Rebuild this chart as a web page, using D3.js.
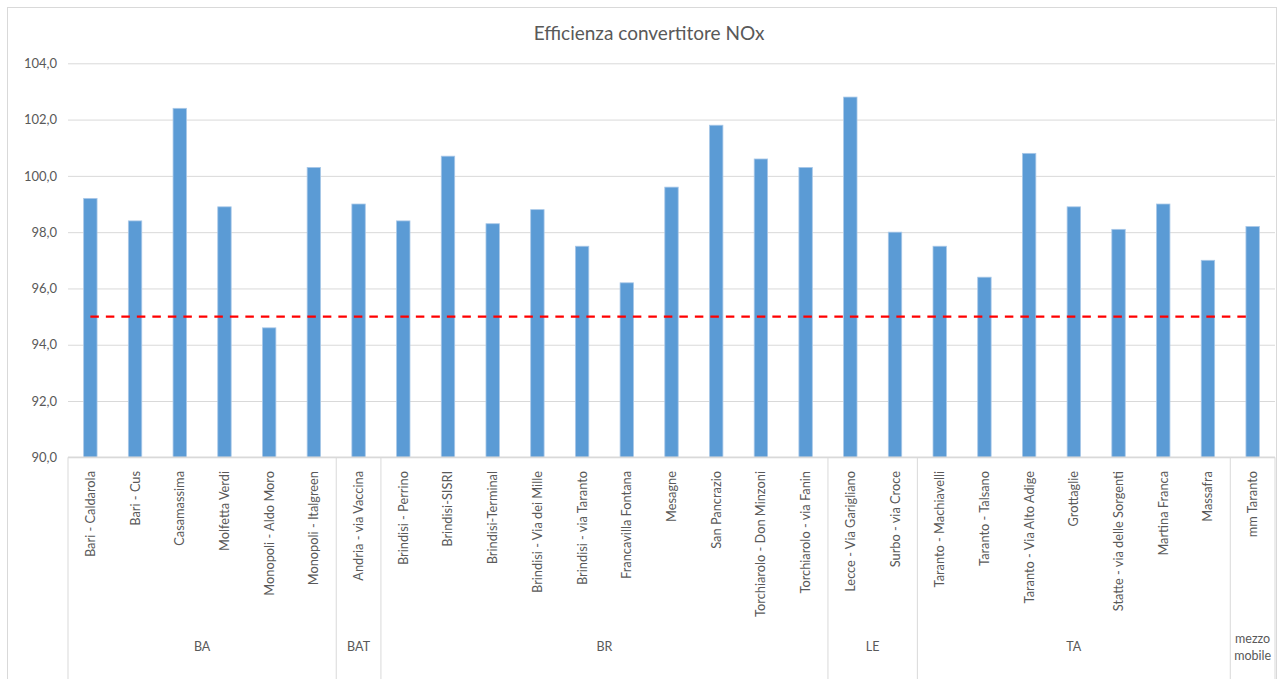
<!DOCTYPE html>
<html>
<head>
<meta charset="utf-8">
<script src="https://cdn.jsdelivr.net/npm/d3@7"></script>
<style>
  html, body { margin: 0; padding: 0; background: #fff; }
  svg { display: block; font-family: Lato, "Open Sans", sans-serif; }
</style>
</head>
<body>
<svg id="chart" width="1277" height="679"></svg>
<script>
// Stations (first-level categories) and their province groups
const stations = [
  "Bari - Caldarola", "Bari - Cus", "Casamassima", "Molfetta Verdi",
  "Monopoli - Aldo Moro", "Monopoli - Italgreen",
  "Andria - via Vaccina",
  "Brindisi - Perrino", "Brindisi-SISRI", "Brindisi-Terminal",
  "Brindisi - Via dei Mille", "Brindisi - via Taranto", "Francavilla Fontana",
  "Mesagne", "San Pancrazio", "Torchiarolo - Don Minzoni", "Torchiarolo - via Fanin",
  "Lecce - Via Garigliano", "Surbo - via Croce",
  "Taranto - Machiavelli", "Taranto - Talsano", "Taranto - Via Alto Adige",
  "Grottaglie", "Statte - via delle Sorgenti", "Martina Franca", "Massafra",
  "mm Taranto"
];
const provinces = [
  "BA", "BA", "BA", "BA", "BA", "BA",
  "BAT",
  "BR", "BR", "BR", "BR", "BR", "BR", "BR", "BR", "BR", "BR",
  "LE", "LE",
  "TA", "TA", "TA", "TA", "TA", "TA", "TA",
  "mezzo mobile"
];
// Converter efficiency (%)
const efficiency = [
  99.2, 98.4, 102.4, 98.9, 94.6, 100.3,
  99.0,
  98.4, 100.7, 98.3, 98.8, 97.5, 96.2, 99.6, 101.8, 100.6, 100.3,
  102.8, 98.0,
  97.5, 96.4, 100.8, 98.9, 98.1, 99.0, 97.0,
  98.2
];
// Minimum acceptable efficiency
const threshold = 95;
const yTicks = [90, 92, 94, 96, 98, 100, 102, 104];
const title = "Efficienza convertitore NOx";

const svg = d3.select("#chart");
const W = 1277, H = 679;
const plot = { left: 68, right: 1275, top: 63.3, bottom: 457.3 };
const textColor = "#595959";
const gridColor = "#d9d9d9";

// Outer chart frame
svg.append("rect")
  .attr("x", 7.5).attr("y", 7.5)
  .attr("width", W - 8).attr("height", H)
  .attr("fill", "#fff").attr("stroke", gridColor).attr("stroke-width", 1);

const x = d3.scaleBand()
  .domain(d3.range(stations.length))
  .range([plot.left, plot.right])
  .paddingInner(0.7).paddingOuter(0.35);
const xSlot = d3.scaleBand()
  .domain(d3.range(stations.length))
  .range([plot.left, plot.right]);
const y = d3.scaleLinear().domain([90, 104]).range([plot.bottom, plot.top]);

// Title
svg.append("text")
  .attr("x", 649).attr("y", 40)
  .attr("text-anchor", "middle")
  .attr("font-size", 19).attr("fill", textColor)
  .text(title);

// Horizontal gridlines and y tick labels
const yAxis = d3.axisLeft(y).tickValues(yTicks)
  .tickFormat(d => d3.format(".1f")(d).replace(".", ","))
  .tickSize(-(plot.right - plot.left)).tickPadding(11);
const gy = svg.append("g")
  .attr("transform", `translate(${plot.left},0)`)
  .call(yAxis);
gy.select(".domain").remove();
gy.selectAll(".tick line").attr("stroke", gridColor).attr("stroke-width", 1);
gy.selectAll(".tick text").attr("fill", textColor).attr("font-size", 13)
  .attr("font-family", "Lato, 'Open Sans', sans-serif");

// Bars
svg.append("g").selectAll("rect")
  .data(efficiency)
  .join("rect")
  .attr("x", (d, i) => x(i))
  .attr("width", x.bandwidth())
  .attr("y", d => y(d))
  .attr("height", d => y(90) - y(d))
  .attr("fill", "#5b9bd5")
  .attr("stroke", "#a9c8e8")
  .attr("stroke-width", 0.8);

// Category axis baseline
svg.append("line")
  .attr("x1", plot.left).attr("x2", plot.right)
  .attr("y1", plot.bottom).attr("y2", plot.bottom)
  .attr("stroke", gridColor).attr("stroke-width", 1.5);

// Threshold line drawn as a series across all stations
const thresholdLine = d3.line()
  .x((d, i) => xSlot(i) + xSlot.bandwidth() / 2)
  .y(() => y(threshold));
svg.append("path")
  .datum(stations)
  .attr("d", thresholdLine)
  .attr("fill", "none")
  .attr("stroke", "#ff0000")
  .attr("stroke-width", 2.2)
  .attr("stroke-dasharray", "8.5,7");

// Station labels, rotated
svg.append("g").selectAll("text")
  .data(stations)
  .join("text")
  .attr("transform", (d, i) =>
    `translate(${xSlot(i) + xSlot.bandwidth() / 2},471) rotate(-90)`)
  .attr("text-anchor", "end")
  .attr("dy", "0.35em")
  .attr("font-size", 12.8)
  .attr("fill", textColor)
  .text(d => d);

// Province groups: separators and centred labels
const groups = [];
provinces.forEach((p, i) => {
  const last = groups[groups.length - 1];
  if (last && last.name === p) last.end = i;
  else groups.push({ name: p, start: i, end: i });
});
const edges = [xSlot(0)].concat(groups.map(g => xSlot(g.end) + xSlot.bandwidth()));
svg.append("g").selectAll("line")
  .data(edges)
  .join("line")
  .attr("x1", d => d).attr("x2", d => d)
  .attr("y1", plot.bottom).attr("y2", H)
  .attr("stroke", gridColor).attr("stroke-width", 1);

const gLabels = svg.append("g").selectAll("text")
  .data(groups)
  .join("text")
  .attr("x", g => (xSlot(g.start) + xSlot(g.end) + xSlot.bandwidth()) / 2)
  .attr("y", 651)
  .attr("text-anchor", "middle")
  .attr("font-size", 12.5)
  .attr("fill", textColor);
gLabels.each(function (g) {
  const words = g.name.split(" ");
  const t = d3.select(this);
  if (words.length > 1) {
    t.attr("y", 643);
    words.forEach((w, k) => {
      t.append("tspan")
        .attr("x", t.attr("x"))
        .attr("dy", k === 0 ? 0 : 17)
        .text(w);
    });
  } else {
    t.text(g.name);
  }
});
</script>
</body>
</html>
